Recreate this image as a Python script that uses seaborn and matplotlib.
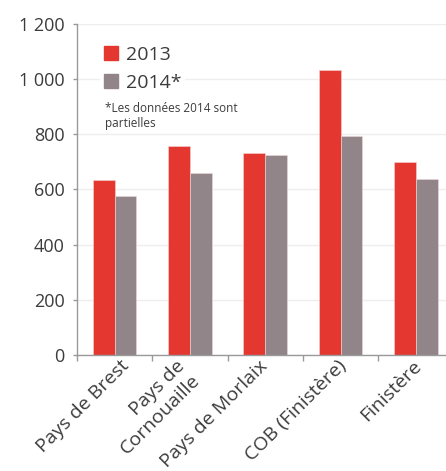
import matplotlib
matplotlib.use("Agg")
import matplotlib.pyplot as plt
import matplotlib.patches as mpatches
from matplotlib.ticker import FixedLocator, FuncFormatter
import seaborn as sns
import pandas as pd

categories = ["Pays de Brest", "Pays de\nCornouaille", "Pays de Morlaix", "COB (Finistère)", "Finistère"]
values_2013 = [636, 756, 732, 1034, 699]
values_2014 = [575, 659, 724, 795, 639]
series = ["2013", "2014*"]
yticks = [0, 200, 400, 600, 800, 1000, 1200]
note = "*Les données 2014 sont\npartielles"

RED = "#e43730"
GRAY = "#918589"
TXT = "#3c3c3c"

df = pd.DataFrame({
    "cat": categories * 2,
    "val": values_2013 + values_2014,
    "year": [series[0]] * len(categories) + [series[1]] * len(categories),
})

sns.set_theme(style="white")
plt.rcParams["font.family"] = ["Open Sans", "DejaVu Sans"]

W, H = 446, 471
fig = plt.figure(figsize=(W / 100, H / 100), dpi=100)
ax = fig.add_axes([77 / W, (H - 355) / H, 376.5 / W, 331 / H])

sns.barplot(data=df, x="cat", y="val", hue="year", order=categories,
            hue_order=series, palette=[RED, GRAY], width=0.58,
            saturation=1, ax=ax, legend=False, edgecolor="#f3d6d6", linewidth=0.4)

ax.set_xlim(-0.5, 4.5)
ax.set_ylim(0, 1200)
ax.yaxis.set_major_locator(FixedLocator(yticks))
ax.yaxis.set_major_formatter(FuncFormatter(lambda v, p: f"{int(v):,}".replace(",", " ")))
ax.grid(axis="y", color="#eeeeee", linewidth=1)
ax.set_axisbelow(True)
ax.set_xlabel("")
ax.set_ylabel("")

for s in ["top", "right"]:
    ax.spines[s].set_visible(False)
for s in ["left", "bottom"]:
    ax.spines[s].set_color("#9a9a9a")
    ax.spines[s].set_linewidth(1.0)

ax.tick_params(axis="y", which="major", left=True, length=3, width=1, color="#9a9a9a",
               pad=6, labelsize=13, labelcolor=TXT)
ax.tick_params(axis="x", which="major", bottom=False, labelbottom=False)
ax.set_xticks([-0.5, 0.5, 1.5, 2.5, 3.5], minor=True)
ax.tick_params(axis="x", which="minor", bottom=True, length=4, width=1, color="#9a9a9a")

# rotated category labels, anchored at their top-right corner below each category
nudges = [5, -14, -7, -3, -4]  # px, horizontal
for i, (name, dx) in enumerate(zip(categories, nudges)):
    ax.annotate(name, xy=(i, 0), xycoords=("data", "axes fraction"),
                xytext=(dx * 0.72, -2 * 0.72), textcoords="offset points",
                rotation=45, rotation_mode="anchor", ha="right", va="top",
                multialignment="right", fontsize=14, color=TXT, annotation_clip=False)

handles = [mpatches.Patch(color=RED, label=series[0]), mpatches.Patch(color=GRAY, label=series[1])]
leg = ax.legend(handles=handles, loc="upper left", bbox_to_anchor=(23 / 376.5, 1 - 18 / 331),
                frameon=True, fontsize=14, handlelength=0.72, handleheight=0.72,
                handletextpad=0.4, labelspacing=0.5, borderpad=0.2, borderaxespad=0)
leg.get_frame().set_facecolor("white")
leg.get_frame().set_edgecolor("none")
leg.get_frame().set_alpha(1)
for t in leg.get_texts():
    t.set_color(TXT)

fig.text(105 / W, 1 - 102 / H, note, fontsize=8.5, color=TXT, ha="left", va="top", linespacing=1.15)

fig.savefig("out.png", dpi=100)
